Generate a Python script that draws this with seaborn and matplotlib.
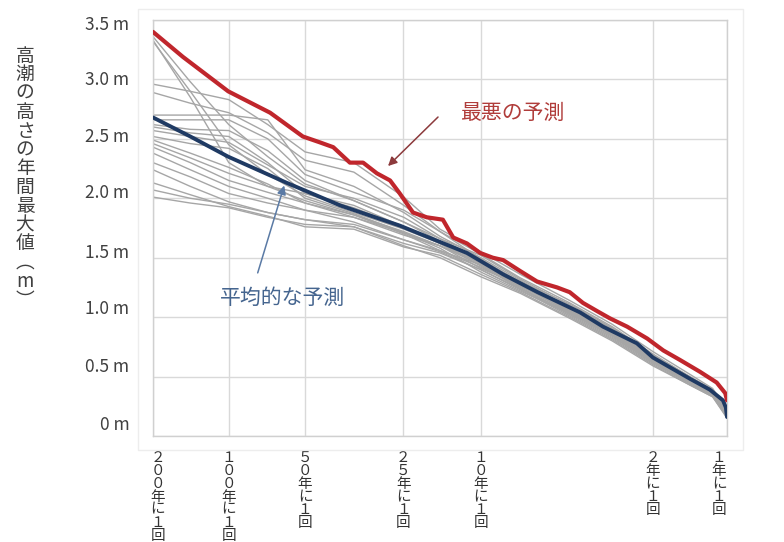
import matplotlib
matplotlib.use("Agg")
import matplotlib.pyplot as plt
import matplotlib.transforms as mtransforms
import seaborn as sns
import pandas as pd
from matplotlib.patches import Rectangle

# ---- x axis: plotting position across the return-period range (0 = 200 yr, 100 = 1 yr)
tick_pos = [0, 13.2, 26.5, 43.6, 57.1, 87.1, 100]
tick_labels = ["２００年に１回", "１００年に１回", "５０年に１回", "２５年に１回",
               "１０年に１回", "２年に１回", "１年に１回"]
y_ticks = [0, 0.5, 1.0, 1.5, 2.0, 2.5, 3.0, 3.5]
y_tick_labels = ["0 m", "0.5 m", "1.0 m", "1.5 m", "2.0 m", "2.5 m", "3.0 m", "3.5 m"]

# ---- worst-case projection
worst_pos = [0.0, 5.2, 13.1, 20.4, 26.1, 29.1, 31.4, 34.3, 36.6, 39.0, 41.3, 43.0,
             45.3, 47.7, 50.5, 52.3, 54.7, 57.0, 59.2, 61.0, 63.9, 66.9, 70.4, 72.6,
             74.9, 77.4, 79.6, 82.6, 86.1, 88.9, 91.8, 95.3, 98.2, 99.7, 100.0]
worst_val = [3.40, 3.19, 2.90, 2.72, 2.52, 2.47, 2.43, 2.30, 2.30, 2.21, 2.15, 2.04,
             1.88, 1.84, 1.82, 1.67, 1.62, 1.54, 1.50, 1.48, 1.39, 1.30, 1.25, 1.21,
             1.12, 1.05, 0.99, 0.92, 0.82, 0.72, 0.64, 0.54, 0.45, 0.36, 0.30]

# ---- ensemble-mean projection
mean_pos = [0.0, 6.5, 13.1, 23.3, 32.6, 43.0, 54.7, 61.0, 67.0, 74.4, 78.4, 84.3,
            87.1, 93.6, 97.0, 99.3, 99.8, 100.0]
mean_val = [2.68, 2.52, 2.35, 2.13, 1.94, 1.77, 1.54, 1.36, 1.21, 1.04, 0.92, 0.78,
            0.66, 0.48, 0.39, 0.30, 0.24, 0.16]

# ---- individual ensemble members
member_pos = [0, 6.5, 13.2, 20, 26.5, 35, 43.7, 50, 57.1, 64, 72.6, 80, 87.1, 93.5, 97.5, 100]
m01 = [3.36, 2.98, 2.62, 2.35, 2.12, 1.98, 1.80, 1.66, 1.52, 1.32, 1.10, 0.90, 0.68, 0.49, 0.38, 0.20]
m02 = [3.32, 2.90, 2.45, 2.20, 2.02, 1.88, 1.74, 1.62, 1.47, 1.28, 1.05, 0.86, 0.64, 0.47, 0.36, 0.18]
m03 = [2.96, 2.90, 2.83, 2.62, 2.39, 2.30, 2.01, 1.74, 1.55, 1.36, 1.14, 0.94, 0.71, 0.52, 0.40, 0.22]
m04 = [2.89, 2.80, 2.72, 2.55, 2.32, 2.22, 1.94, 1.72, 1.53, 1.33, 1.12, 0.92, 0.69, 0.50, 0.39, 0.21]
m05 = [2.70, 2.70, 2.70, 2.66, 2.24, 2.10, 1.88, 1.68, 1.50, 1.31, 1.07, 0.88, 0.66, 0.48, 0.37, 0.19]
m06 = [2.66, 2.66, 2.66, 2.50, 2.20, 2.05, 1.90, 1.72, 1.49, 1.29, 1.09, 0.90, 0.67, 0.49, 0.38, 0.20]
m07 = [2.62, 2.58, 2.57, 2.40, 2.15, 1.98, 1.80, 1.64, 1.46, 1.27, 1.04, 0.85, 0.63, 0.46, 0.35, 0.18]
m08 = [2.60, 2.55, 2.52, 2.30, 2.04, 1.92, 1.76, 1.62, 1.45, 1.26, 1.06, 0.87, 0.65, 0.47, 0.36, 0.19]
m09 = [2.57, 2.52, 2.47, 2.28, 2.10, 2.00, 1.84, 1.66, 1.48, 1.30, 1.11, 0.91, 0.68, 0.50, 0.38, 0.20]
m10 = [2.52, 2.46, 2.42, 2.25, 2.00, 1.87, 1.71, 1.60, 1.44, 1.25, 1.03, 0.84, 0.62, 0.45, 0.35, 0.17]
m11 = [2.49, 2.38, 2.26, 2.12, 1.96, 1.84, 1.69, 1.60, 1.46, 1.29, 1.06, 0.86, 0.64, 0.46, 0.36, 0.18]
m12 = [2.46, 2.34, 2.21, 2.10, 2.04, 1.94, 1.76, 1.62, 1.43, 1.24, 1.02, 0.83, 0.62, 0.45, 0.34, 0.17]
m13 = [2.43, 2.30, 2.15, 2.05, 1.96, 1.86, 1.72, 1.60, 1.41, 1.27, 1.08, 0.89, 0.67, 0.49, 0.37, 0.19]
m14 = [2.38, 2.24, 2.10, 2.00, 1.90, 1.80, 1.65, 1.55, 1.40, 1.23, 1.01, 0.82, 0.61, 0.44, 0.34, 0.16]
m15 = [2.30, 2.18, 2.04, 1.96, 1.90, 1.84, 1.71, 1.58, 1.38, 1.22, 1.03, 0.85, 0.63, 0.46, 0.35, 0.18]
m16 = [2.24, 2.10, 1.97, 1.88, 1.82, 1.78, 1.65, 1.56, 1.42, 1.26, 1.05, 0.86, 0.65, 0.47, 0.36, 0.18]
m17 = [2.13, 2.03, 1.93, 1.85, 1.76, 1.74, 1.59, 1.52, 1.36, 1.21, 1.00, 0.81, 0.60, 0.43, 0.33, 0.16]
m18 = [2.07, 2.00, 1.95, 1.88, 1.82, 1.76, 1.62, 1.54, 1.40, 1.24, 1.04, 0.87, 0.64, 0.46, 0.35, 0.17]
m19 = [2.01, 1.96, 1.92, 1.84, 1.78, 1.76, 1.60, 1.50, 1.34, 1.20, 0.99, 0.80, 0.59, 0.43, 0.33, 0.15]
m20 = [3.33, 2.85, 2.30, 2.10, 1.98, 1.86, 1.70, 1.56, 1.44, 1.28, 1.07, 0.88, 0.66, 0.48, 0.37, 0.19]
members = [m01, m02, m03, m04, m05, m06, m07, m08, m09, m10,
           m11, m12, m13, m14, m15, m16, m17, m18, m19, m20]

member_df = pd.DataFrame(
    [(i, p, v) for i, vals in enumerate(members) for p, v in zip(member_pos, vals)],
    columns=["member", "pos", "value"],
)
worst_df = pd.DataFrame({"pos": worst_pos, "value": worst_val})
mean_df = pd.DataFrame({"pos": mean_pos, "value": mean_val})

sns.set_theme(style="white")
plt.rcParams["font.family"] = ["Noto Sans CJK JP", "DejaVu Sans"]

fig = plt.figure(figsize=(7.84, 5.42), dpi=100)
fig.patch.set_facecolor("white")
# faint outer chart-area frame
fig.patches.append(Rectangle((138 / 784, 1 - 450 / 542), (743 - 138) / 784, (450 - 9) / 542,
                             transform=fig.transFigure, fill=False,
                             edgecolor="#ededed", lw=1, zorder=0))

ax = fig.add_axes([153 / 784, 1 - 436 / 542, (727 - 153) / 784, (436 - 20) / 542])

sns.lineplot(data=member_df, x="pos", y="value", units="member", estimator=None,
             sort=False, color="#a6a6a6", lw=1.0, ax=ax, zorder=2)
sns.lineplot(data=mean_df, x="pos", y="value", estimator=None, sort=False,
             color="#1f3a63", lw=2.8, ax=ax, zorder=4)
sns.lineplot(data=worst_df, x="pos", y="value", estimator=None, sort=False,
             color="#c0262c", lw=3.0, ax=ax, zorder=5)

ax.set_xlim(0, 100)
ax.set_ylim(0, 3.5)
ax.set_xticks(tick_pos)
ax.set_xticklabels(["\n".join(t) for t in tick_labels], fontsize=10.5,
                   color="#333333", linespacing=0.9)
ax.set_yticks(y_ticks)
ax.set_yticklabels(y_tick_labels, fontsize=12.5, color="#404040")
ax.tick_params(axis="x", length=0, pad=11)
ax.tick_params(axis="y", length=0, pad=17)
ax.set_xlabel("")
ax.set_ylabel("")
ax.grid(True, color="#d9d9d9", lw=1)
ax.set_axisbelow(True)
for s in ax.spines.values():
    s.set_color("#d0d0d0")
    s.set_linewidth(1)

# nudge the outermost x labels inward and the y labels into their printed rows
x_shift_px = {0: 5, len(tick_pos) - 1: -8}
for i, lab in enumerate(ax.get_xticklabels()):
    dx = x_shift_px.get(i, 0)
    lab.set_transform(lab.get_transform() +
                      mtransforms.ScaledTranslation(dx / 100, 0, fig.dpi_scale_trans))
y_shift_px = [13, 12, 10, 7, 7, 4, 1, -3]
for lab, dy in zip(ax.get_yticklabels(), y_shift_px):
    lab.set_transform(lab.get_transform() +
                      mtransforms.ScaledTranslation(0, dy / 100, fig.dpi_scale_trans))

# vertical axis title, written top to bottom
fig.text(25 / 784, 1 - 178 / 542, "\n".join("高潮の高さの年間最大値︵m︶"),
         ha="center", va="center", fontsize=13.5, color="#404040", linespacing=0.86)

# callouts
ax.annotate("", xy=(40.6, 2.255), xytext=(50.0, 2.70),
            arrowprops=dict(arrowstyle="-|>", color="#8c3a3c", lw=1.1, mutation_scale=13))
ax.text(62.7, 2.72, "最悪の予測", color="#b03c3a", fontsize=15, ha="center", va="center")
ax.annotate("", xy=(23.0, 2.13), xytext=(18.1, 1.35),
            arrowprops=dict(arrowstyle="-|>", color="#5a7aa5", lw=1.1, mutation_scale=13))
ax.text(22.5, 1.16, "平均的な予測", color="#45658f", fontsize=15, ha="center", va="center")

fig.savefig("out.png", dpi=100, facecolor="white")
